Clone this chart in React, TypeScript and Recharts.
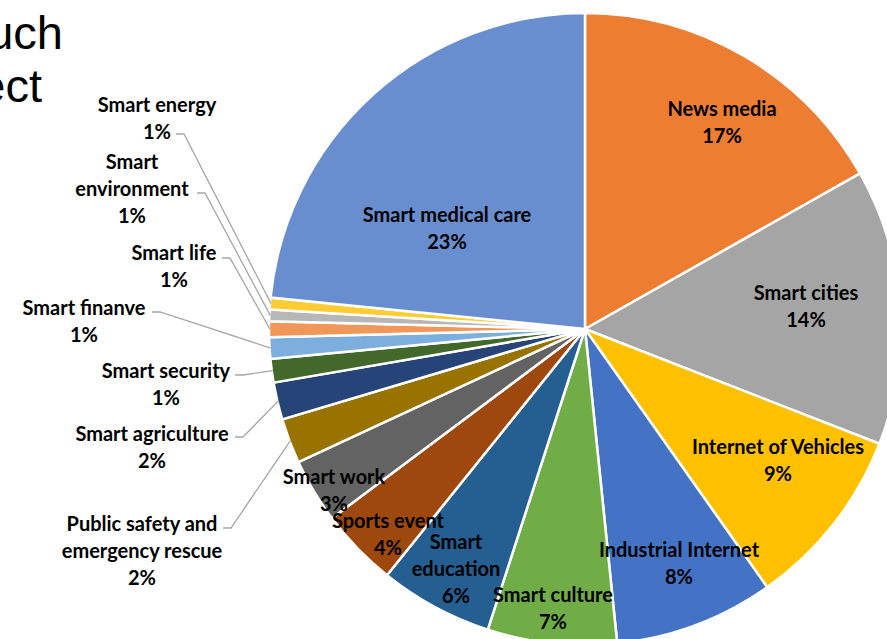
import React from 'react';
import { PieChart, Pie, Cell } from 'recharts';

// slices listed clockwise, starting at 12 o'clock
const categories = [
  'News media',
  'Smart cities',
  'Internet of Vehicles',
  'Industrial Internet',
  'Smart culture',
  'Smart education',
  'Sports event',
  'Smart work',
  'Public safety and emergency rescue',
  'Smart agriculture',
  'Smart security',
  'Smart finanve',
  'Smart life',
  'Smart environment',
  'Smart energy',
  'Smart medical care',
];
const shares = [16.8, 14.1, 9.3, 8.15, 6.6, 5.8, 4.0, 3.3, 2.3, 1.9, 1.2, 1.1, 0.8, 0.6, 0.6, 23.4];
const sliceColors = [
  '#ED7D31', '#A5A5A5', '#FFC000', '#4472C4', '#70AD47', '#255E91', '#9E480E', '#636363',
  '#997300', '#264478', '#43682B', '#7CAFDD', '#F1975A', '#B7B7B7', '#FFCD33', '#698ED0',
];

const data = categories.map((name, i) => ({ name, value: shares[i] }));

// label placement (relative to pie centre). inside labels have no leader.
type LabelSpot = { lines: string[]; dx: number; dy: number; lead?: [number, number] };
const labelSpots: LabelSpot[] = [
  { lines: ['News media'], dx: 137, dy: -221 },
  { lines: ['Smart cities'], dx: 221, dy: -37 },
  { lines: ['Internet of Vehicles'], dx: 193, dy: 117 },
  { lines: ['Industrial Internet'], dx: 94, dy: 220 },
  { lines: ['Smart culture'], dx: -32, dy: 265 },
  { lines: ['Smart', 'education'], dx: -129, dy: 212 },
  { lines: ['Sports event'], dx: -197, dy: 191 },
  { lines: ['Smart work'], dx: -251, dy: 147 },
  { lines: ['Public safety and', 'emergency rescue'], dx: -443, dy: 194, lead: [-362, 199] },
  { lines: ['Smart agriculture'], dx: -433, dy: 104, lead: [-350, 108] },
  { lines: ['Smart security'], dx: -419, dy: 41, lead: [-350, 46] },
  { lines: ['Smart finanve'], dx: -501, dy: -22, lead: [-433, -17] },
  { lines: ['Smart life'], dx: -411, dy: -77, lead: [-363, -71] },
  { lines: ['Smart', 'environment'], dx: -453, dy: -168, lead: [-388, -136] },
  { lines: ['Smart energy'], dx: -428, dy: -225, lead: [-409, -195] },
  { lines: ['Smart medical care'], dx: -138, dy: -115 },
];

const CX = 585;
const CY = 329;
const R = 316;
const LINE_H = 27;
const RADIAN = Math.PI / 180;

const renderLabel = (props: any) => {
  const { midAngle, outerRadius, percent, index } = props;
  const cx = props.cx ?? CX;
  const cy = props.cy ?? CY;
  const spot = labelSpots[index];
  const lines = [...spot.lines, `${Math.round(percent * 100)}%`];
  const tx = cx + spot.dx;
  const ty = cy + spot.dy;
  let leader = null;
  if (spot.lead) {
    const sx = cx + spot.lead[0];
    const sy = cy + spot.lead[1];
    const ex = cx + (outerRadius - 1) * Math.cos(-midAngle * RADIAN);
    const ey = cy + (outerRadius - 1) * Math.sin(-midAngle * RADIAN);
    leader = (
      <polyline
        points={`${sx},${sy} ${sx + 8},${sy} ${ex},${ey}`}
        fill="none"
        stroke="#A6A6A6"
        strokeWidth={1.3}
      />
    );
  }
  return (
    <g key={`lbl-${index}`}>
      {leader}
      {lines.map((t, k) => (
        <text
          key={k}
          x={tx}
          y={ty + k * LINE_H}
          textAnchor="middle"
          dominantBaseline="central"
          fill="#000"
          style={{ fontFamily: 'Lato, sans-serif', fontWeight: 700, fontSize: 20 }}
        >
          {t}
        </text>
      ))}
    </g>
  );
};

export default function App() {
  return (
    <div style={{ position: 'absolute', left: 0, top: 0, width: 887, height: 639, overflow: 'hidden', background: '#fff' }}>
      <PieChart width={887} height={639} margin={{ top: 0, right: 0, bottom: 0, left: 0 }}>
        <Pie
          data={data}
          dataKey="value"
          nameKey="name"
          cx={CX}
          cy={CY}
          outerRadius={R}
          startAngle={90}
          endAngle={-270}
          stroke="#fff"
          strokeWidth={2.5}
          label={renderLabel}
          labelLine={false}
          isAnimationActive={false}
        >
          {data.map((d, i) => (
            <Cell key={d.name} fill={sliceColors[i]} />
          ))}
        </Pie>
      </PieChart>
      {/* leftover slide title text, cut off by the crop */}
      <svg width={887} height={639} style={{ position: 'absolute', left: 0, top: 0, pointerEvents: 'none' }}>
        <text x={63} y={49} textAnchor="end" style={{ fontFamily: '"Liberation Sans", Arial, sans-serif', fontSize: 47 }} fill="#000">
          uch
        </text>
        <text x={42} y={102} textAnchor="end" style={{ fontFamily: '"Liberation Sans", Arial, sans-serif', fontSize: 47 }} fill="#000">
          ect
        </text>
      </svg>
    </div>
  );
}
